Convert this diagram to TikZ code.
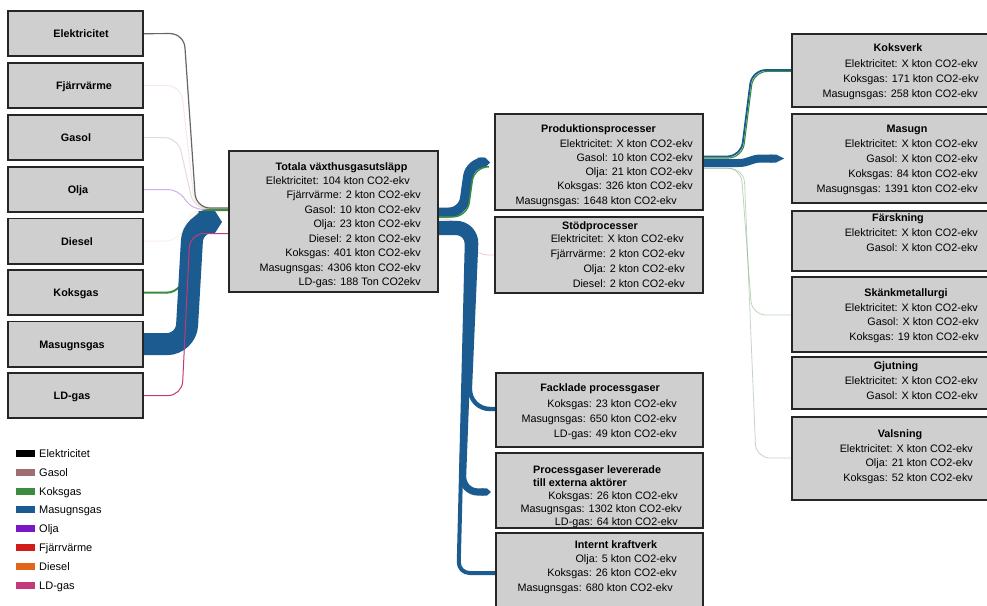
\documentclass[tikz,border=0pt]{standalone}
\usepackage{fontspec}
\setmainfont{Liberation Sans}
\usetikzlibrary{arrows.meta}

% fuel colours
\definecolor{cElek}{HTML}{000000}
\definecolor{cGasol}{HTML}{9E6E72}
\definecolor{cKoks}{HTML}{3A8D3F}
\definecolor{cMasu}{HTML}{1B5B8F}
\definecolor{cOlja}{HTML}{7A17C4}
\definecolor{cFjarr}{HTML}{D11B1B}
\definecolor{cDiesel}{HTML}{E2661A}
\definecolor{cLD}{HTML}{C23A78}
\definecolor{boxgray}{HTML}{CFCFCF}

\tikzset{
  boxshape/.style={inner sep=0pt, anchor=north west},
  boxpaint/.style={draw=black!85, line width=1.9pt, fill=boxgray},
  lk/.style={rounded corners=14pt},
  ttl/.style={font=\fontsize{10.8}{13}\selectfont\bfseries, inner sep=0pt, anchor=base},
  % multi-line bodies are anchored at the baseline of their last line
  body/.style={font=\fontsize{10.8}{#1}\selectfont, align=right, inner sep=0pt, anchor=base east},
  body/.default=14.5,
  srcl/.style={font=\fontsize{10.8}{13}\selectfont\bfseries, inner sep=0pt, anchor=base},
  lgtxt/.style={font=\fontsize{11}{13}\selectfont, inner sep=0pt, anchor=base west},
  swatch/.style={inner sep=0pt, minimum width=19pt, minimum height=7pt},
}

\begin{document}
\begin{tikzpicture}[x=1pt,y=-1pt]
\useasboundingbox (0,0) rectangle (987,605);
\fill[white] (0,0) rectangle (987,605);
\clip (0,0) rectangle (987,605);

% ---------- box outlines (painted after the flows) ----------
\node[boxshape, minimum width=135pt, minimum height=45pt] (elek)   at (8,11)    {};
\node[boxshape, minimum width=135pt, minimum height=45pt] (fjarr)  at (8,63)    {};
\node[boxshape, minimum width=135pt, minimum height=45pt] (gasol)  at (8,115)   {};
\node[boxshape, minimum width=135pt, minimum height=45pt] (olja)   at (8,167)   {};
\node[boxshape, minimum width=135pt, minimum height=45pt] (diesel) at (8,218.5) {};
\node[boxshape, minimum width=135pt, minimum height=45pt] (koks)   at (8,270)   {};
\node[boxshape, minimum width=135pt, minimum height=45pt] (masu)   at (8,321.5) {};
\node[boxshape, minimum width=135pt, minimum height=45pt] (ld)     at (8,373)   {};

\node[boxshape, minimum width=209pt, minimum height=141pt] (total)  at (229,151) {};
\node[boxshape, minimum width=208pt, minimum height=96pt]  (prod)   at (495,114) {};
\node[boxshape, minimum width=208pt, minimum height=76pt]  (stod)   at (495,217) {};
\node[boxshape, minimum width=207pt, minimum height=74pt]  (fack)   at (496,373) {};
\node[boxshape, minimum width=207pt, minimum height=75pt]  (procg)  at (496,453) {};
\node[boxshape, minimum width=207pt, minimum height=82pt]  (intern) at (496,533) {};
\node[boxshape, minimum width=208pt, minimum height=73pt]  (koksv)  at (792,34)  {};
\node[boxshape, minimum width=208pt, minimum height=89pt]  (masugn) at (792,114) {};
\node[boxshape, minimum width=208pt, minimum height=60pt]  (farsk)  at (792,211) {};
\node[boxshape, minimum width=208pt, minimum height=75pt]  (skank)  at (792,277) {};
\node[boxshape, minimum width=208pt, minimum height=52pt]  (gjut)   at (792,357) {};
\node[boxshape, minimum width=208pt, minimum height=83pt]  (vals)   at (792,417) {};

% ---------- flows: sources -> total ----------
\draw[lk, cElek, opacity=0.6, line width=1.2pt] (elek.east) -- (184,33.5) -- (196,208) -- (total.west |- 0,208);
\draw[lk, cFjarr, opacity=0.10, line width=1pt] (fjarr.east) -- (181,85.5) -- (195,208.5) -- (total.west |- 0,208.5);
\draw[lk, cGasol, opacity=0.25, line width=1pt] (gasol.east) -- (178,137.5) -- (194,209) -- (total.west |- 0,209);
\draw[rounded corners=10pt, cOlja, opacity=0.35, line width=1pt] (olja.east) -- (178,189.5) -- (192,209.3) -- (total.west |- 0,209.3);
\draw[rounded corners=12pt, cDiesel, opacity=0.10, line width=1pt] (diesel.east) -- (178,241) -- (192,209.6) -- (total.west |- 0,209.6);
\draw[lk, cKoks, line width=2pt] (koks.east) -- (181,292.5) -- (195,210) -- (total.west |- 0,210);
\draw[rounded corners=19pt, cMasu, line width=22pt, -{Triangle Cap[length=7pt]}]
  (masu.east) -- (186,344) -- (193,222) -- ([xshift=-7pt]total.west |- 0,222);
\draw[lk, cLD, line width=1pt] (ld.east) -- (182,395.5) -- (190,233.5) -- (total.west |- 0,233.5);

% ---------- flows: total -> process groups ----------
\draw[lk, cMasu, line width=10pt, -{Triangle Cap[length=5pt]}]
  (total.east |- 0,212.5) -- (463,212.5) -- (470,162.5) -- ([xshift=-5pt]prod.west |- 0,162.5);
\draw[lk, cKoks, line width=1.5pt]
  (total.east |- 0,216.8) -- (467.2,216.8) -- (474.2,166.8) -- ([xshift=-6pt]prod.west |- 0,166.8);
\draw[lk, cFjarr!25, line width=0.8pt]
  (total.east |- 0,219) -- (458,219) -- (474,255) -- (stod.west |- 0,255);
% shared trunk: concentric first bends so the three bands stay joined
\draw[rounded corners=21pt, cMasu, line width=4.4pt]
  (total.east |- 0,223) -- (477,223) -- (469,409) -- (fack.west |- 0,409);
\draw[rounded corners=16pt, cMasu, line width=7.2pt, -{Triangle Cap[length=4pt]}]
  (total.east |- 0,228) -- (472,228) -- (462,492) -- ([xshift=-5pt]procg.west |- 0,492);
\draw[rounded corners=11pt, cMasu, line width=4pt]
  (total.east |- 0,233) -- (467,233) -- (458.5,573) -- (intern.west |- 0,573);

% ---------- flows: production -> sub-processes ----------
\draw[lk, cMasu, line width=1.8pt]
  (prod.east |- 0,156.5) -- (741,156.5) -- (752,70) -- (koksv.west |- 0,70);
\draw[lk, cKoks, line width=1.1pt]
  (prod.east |- 0,158) -- (742.4,158) -- (753.4,71.4) -- (koksv.west |- 0,71.4);
\draw[cMasu, line width=8pt, -{Triangle Cap[length=8pt]}]
  (prod.east |- 0,163) -- (738,163) .. controls (750,163) and (750,158.5) .. (762,158.5)
  -- ([xshift=-8pt]masugn.west |- 0,158.5);
\draw[lk, cKoks, opacity=0.35, line width=0.8pt]
  (prod.east |- 0,168) -- (741,168) -- (752,315) -- (skank.west |- 0,315);
\draw[lk, cKoks!60!gray, opacity=0.35, line width=0.8pt]
  (prod.east |- 0,168.5) -- (744,168.5) -- (756,458) -- (vals.west |- 0,458);

% ---------- boxes painted on top of the flow ends ----------
\foreach \b in {elek,fjarr,gasol,olja,diesel,koks,masu,ld,total,prod,stod,fack,procg,intern,koksv,masugn,farsk,skank,gjut,vals}
  \draw[boxpaint] (\b.north west) rectangle (\b.south east);

% ---------- source labels ----------
\node[srcl] (t-elek)   at (81,37.5)  {Elektricitet};
\node[srcl] (t-fjarr)  at (84,89.5)  {Fjärrvärme};
\node[srcl] (t-gasol)  at (76,141.5) {Gasol};
\node[srcl] (t-olja)   at (78,193.5) {Olja};
\node[srcl] (t-diesel) at (77,245)   {Diesel};
\node[srcl] (t-koks)   at (76,296.5) {Koksgas};
\node[srcl] (t-masu)   at (72,348)   {Masugnsgas};
\node[srcl] (t-ld)     at (72,399.5) {LD-gas};

% ---------- process texts ----------
\node[ttl] (tt-total) at (341.5,170) {Totala växthusgasutsläpp};
\node[body] (tb-total) at (421,285.5) {Elektricitet: 104 kton CO2-ekv\hspace*{11pt}\\
  Fjärrvärme: 2 kton CO2-ekv\hspace*{8pt}\\ Gasol: 10 kton CO2-ekv\hspace*{9pt}\\
  Olja: 23 kton CO2-ekv\hspace*{2pt}\\ Diesel: 2 kton CO2-ekv\hspace*{5pt}\\
  Koksgas: 401 kton CO2-ekv\hspace*{5pt}\\ Masugnsgas: 4306 kton CO2-ekv\\
  LD-gas: 188 Ton CO2ekv};

\node[ttl] (tt-prod) at (598.5,132) {Produktionsprocesser};
\node[body=14.3] (tb-prod) at (693,204.2) {Elektricitet: X kton CO2-ekv\\
  Gasol: 10 kton CO2-ekv\hspace*{7pt}\\ Olja: 21 kton CO2-ekv\hspace*{9pt}\\
  Koksgas: 326 kton CO2-ekv\hspace*{10pt}\\ Masugnsgas: 1648 kton CO2-ekv\hspace*{16pt}};

\node[ttl] (tt-stod) at (600,229) {Stödprocesser};
\node[body=15] (tb-stod) at (685,287) {Elektricitet: X kton CO2-ekv\hspace*{1pt}\\
  Fjärrvärme: 2 kton CO2-ekv\\ Olja: 2 kton CO2-ekv\\ Diesel: 2 kton CO2-ekv};

\node[ttl] (tt-fack) at (600,391) {Facklade processgaser};
\node[body=15] (tb-fack) at (677,437) {Koksgas: 23 kton CO2-ekv\\
  Masugnsgas: 650 kton CO2-ekv\hspace*{4pt}\\ LD-gas: 49 kton CO2-ekv};

\node[font=\fontsize{10.8}{13}\selectfont\bfseries, inner sep=0pt, align=left, anchor=base west]
  (tt-procg) at (533,486) {Processgaser levererade\\till externa aktörer};
\node[body=13] (tb-procg) at (682,525) {Koksgas: 26 kton CO2-ekv\hspace*{4pt}\\
  Masugnsgas: 1302 kton CO2-ekv\\ LD-gas: 64 kton CO2-ekv\hspace*{4pt}};

\node[ttl] (tt-intern) at (616,548) {Internt kraftverk};
\node[body] (tb-intern) at (677,591) {Olja: 5 kton CO2-ekv\\
  Koksgas: 26 kton CO2-ekv\\ Masugnsgas: 680 kton CO2-ekv\hspace*{4pt}};

\node[ttl] (tt-koksv) at (898,51) {Koksverk};
\node[body=15] (tb-koksv) at (979,97) {Elektricitet: X kton CO2-ekv\hspace*{1pt}\\
  Koksgas: 171 kton CO2-ekv\\ Masugnsgas: 258 kton CO2-ekv\hspace*{1pt}};

\node[ttl] (tt-masugn) at (907,132) {Masugn};
\node[body=15] (tb-masugn) at (978,192) {Elektricitet: X kton CO2-ekv\\
  Gasol: X kton CO2-ekv\\ Koksgas: 84 kton CO2-ekv\hspace*{5pt}\\ Masugnsgas: 1391 kton CO2-ekv};

\node[ttl] (tt-farsk) at (898,221) {Färskning};
\node[body=15] (tb-farsk) at (978,251) {Elektricitet: X kton CO2-ekv\\ Gasol: X kton CO2-ekv};

\node[ttl] (tt-skank) at (906,296) {Skänkmetallurgi};
\node[body] (tb-skank) at (979,340) {Elektricitet: X kton CO2-ekv\hspace*{1pt}\\
  Gasol: X kton CO2-ekv\hspace*{1pt}\\ Koksgas: 19 kton CO2-ekv};

\node[ttl] (tt-gjut) at (896,369) {Gjutning};
\node[body=15] (tb-gjut) at (978,399) {Elektricitet: X kton CO2-ekv\\ Gasol: X kton CO2-ekv};

\node[ttl] (tt-vals) at (900,437) {Valsning};
\node[body] (tb-vals) at (973,481) {Elektricitet: X kton CO2-ekv\\
  Olja: 21 kton CO2-ekv\\ Koksgas: 52 kton CO2-ekv};

% ---------- legend ----------
\node[swatch, fill=cElek]   (lg1) at (25.5,453) {};
\node[swatch, fill=cGasol]  (lg2) at (25.5,472) {};
\node[swatch, fill=cKoks]   (lg3) at (25.5,491) {};
\node[swatch, fill=cMasu]   (lg4) at (25.5,509) {};
\node[swatch, fill=cOlja]   (lg5) at (25.5,528) {};
\node[swatch, fill=cFjarr]  (lg6) at (25.5,547) {};
\node[swatch, fill=cDiesel] (lg7) at (25.5,566) {};
\node[swatch, fill=cLD]     (lg8) at (25.5,585) {};
\node[lgtxt] (lt1) at (39,457) {Elektricitet};
\node[lgtxt] (lt2) at (39,476) {Gasol};
\node[lgtxt] (lt3) at (39,495) {Koksgas};
\node[lgtxt] (lt4) at (39,513) {Masugnsgas};
\node[lgtxt] (lt5) at (39,532) {Olja};
\node[lgtxt] (lt6) at (39,551) {Fjärrvärme};
\node[lgtxt] (lt7) at (39,570) {Diesel};
\node[lgtxt] (lt8) at (39,589) {LD-gas};
\end{tikzpicture}
\end{document}
